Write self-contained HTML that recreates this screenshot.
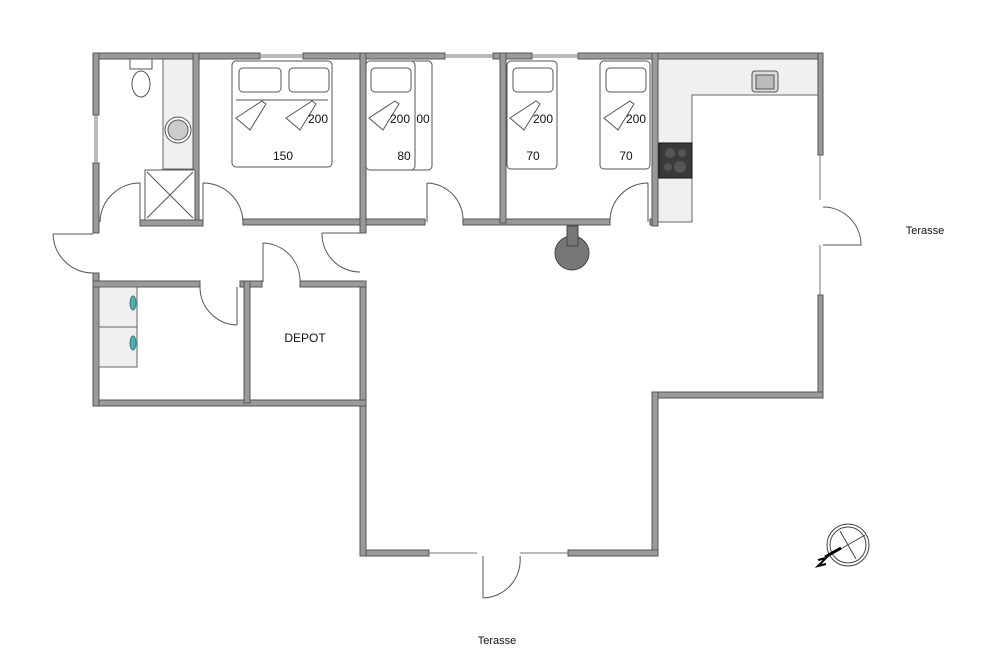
<!DOCTYPE html>
<html><head><style>body{margin:0;background:#fff}svg{display:block}</style></head><body>
<svg width="1000" height="667" viewBox="0 0 1000 667" xmlns="http://www.w3.org/2000/svg" font-family="Liberation Sans, sans-serif">
<g fill="#f0f0f0" stroke="#666" stroke-width="1">
<path d="M658 59H818V95H692V222H658Z"/>
<rect x="163" y="59" width="30" height="110"/>
</g>
<g fill="#9a9a9a" stroke="#555" stroke-width="1">
<rect x="93" y="53" width="167" height="6"/>
<rect x="303" y="53" width="142" height="6"/>
<rect x="493" y="53" width="39" height="6"/>
<rect x="578" y="53" width="245" height="6"/>
<rect x="818" y="53" width="5" height="102"/>
<rect x="818" y="295" width="5" height="103"/>
<rect x="652" y="392" width="171" height="6"/>
<rect x="652" y="392" width="6" height="164"/>
<rect x="360" y="550" width="69" height="6"/>
<rect x="568" y="550" width="90" height="6"/>
<rect x="360" y="282" width="6" height="274"/>
<rect x="93" y="400" width="273" height="6"/>
<rect x="93" y="53" width="6" height="62"/>
<rect x="93" y="163" width="6" height="70"/>
<rect x="93" y="273" width="6" height="133"/>
<rect x="193" y="53" width="6" height="173"/>
<rect x="140" y="220" width="63" height="6"/>
<rect x="243" y="219" width="182" height="6"/>
<rect x="463" y="219" width="147" height="6"/>
<rect x="650" y="219" width="8" height="6"/>
<rect x="360" y="53" width="6" height="180"/>
<rect x="500" y="53" width="6" height="170"/>
<rect x="652" y="53" width="6" height="173"/>
<rect x="93" y="281" width="107" height="6"/>
<rect x="240" y="281" width="22" height="6"/>
<rect x="300" y="281" width="66" height="6"/>
<rect x="244" y="281" width="6" height="122"/>
</g>
<g stroke="#777" stroke-width="1" fill="none">
<line x1="260" y1="55" x2="303" y2="55"/><line x1="260" y1="57" x2="303" y2="57"/>
<line x1="445" y1="55" x2="493" y2="55"/><line x1="445" y1="57" x2="493" y2="57"/>
<line x1="532" y1="55" x2="578" y2="55"/><line x1="532" y1="57" x2="578" y2="57"/>
<line x1="95" y1="115" x2="95" y2="163"/><line x1="97" y1="115" x2="97" y2="163"/>
<line x1="820" y1="155" x2="820" y2="200"/>
<line x1="820" y1="245" x2="820" y2="295"/>
<line x1="429" y1="553" x2="477" y2="553"/>
<line x1="520" y1="553" x2="568" y2="553"/>
</g>
<g stroke="#555" stroke-width="1" fill="none">
<path d="M140 183V222M140 183A40 40 0 0 0 100 222"/>
<path d="M203 183V222M203 183A40 40 0 0 1 243 222"/>
<path d="M427 183V222M427 183A37 37 0 0 1 463 222"/>
<path d="M648 183V222M648 183A38 38 0 0 0 610 222"/>
<path d="M53 234H93M53 234A40 40 0 0 0 93 273"/>
<path d="M322 233H360M322 233A38 38 0 0 0 360 272"/>
<path d="M263 243V282M263 243A38 38 0 0 1 300 282"/>
<path d="M237 287V325M237 325A38 38 0 0 1 200 287"/>
<path d="M823 207A38 38 0 0 1 861 245H823"/>
<path d="M483 556V598M483 598A38 38 0 0 0 520 556"/>
</g>
<g stroke="#555" fill="#fff" stroke-width="1">
<rect x="130" y="59" width="22" height="10"/>
<ellipse cx="141" cy="84" rx="9" ry="13"/>
<circle cx="178" cy="130" r="13"/>
<circle cx="178" cy="130" r="10" fill="#ccc"/>
<rect x="145" y="170" width="50" height="50"/>
<path d="M147 172L193 218M193 172L147 218"/>
</g>
<g stroke="#555" fill="#fff" stroke-width="1">
<rect x="232" y="61" width="100" height="106" rx="4"/>
<rect x="239" y="68" width="42" height="24" rx="4"/><rect x="289" y="68" width="40" height="24" rx="4"/>
<line x1="236" y1="100" x2="328" y2="100"/>
<rect x="383" y="61" width="49" height="109" rx="4"/>
<rect x="366" y="61" width="49" height="109" rx="4"/>
<rect x="371" y="68" width="40" height="24" rx="4"/>
<rect x="507" y="61" width="50" height="108" rx="4"/>
<rect x="513" y="68" width="40" height="24" rx="4"/>
<rect x="600" y="61" width="50" height="108" rx="4"/>
<rect x="606" y="68" width="40" height="24" rx="4"/>
<path d="M236 118L262 101L266 104L250 130Z"/><path d="M286 118L312 101L316 104L300 130Z"/>
<path d="M369 118L395 101L399 104L383 130Z"/><path d="M510 118L536 101L540 104L524 130Z"/><path d="M604 118L630 101L634 104L618 130Z"/>
</g>
<g font-size="12" fill="#111" text-anchor="middle">
<text x="318" y="123">200</text><text x="283" y="160">150</text>
<text x="400" y="123">200</text><text x="423" y="123">00</text><text x="404" y="160">80</text>
<text x="543" y="123">200</text><text x="533" y="160">70</text>
<text x="636" y="123">200</text><text x="626" y="160">70</text>
<text x="305" y="342">DEPOT</text>
<text x="925" y="234" font-size="11">Terasse</text>
<text x="497" y="644" font-size="11">Terasse</text>
</g>
<rect x="752" y="71" width="26" height="21" rx="3" fill="#ddd" stroke="#555"/>
<rect x="756" y="75" width="18" height="14" fill="#bbb" stroke="#555"/>
<rect x="659" y="143" width="33" height="35" fill="#3a3a3a" stroke="#111"/>
<circle cx="670" cy="153" r="5" fill="#555"/><circle cx="682" cy="153" r="4" fill="#555"/><circle cx="668" cy="167" r="4" fill="#555"/><circle cx="680" cy="167" r="6" fill="#555"/>
<circle cx="572" cy="253" r="17" fill="#777" stroke="#444"/>
<rect x="567" y="226" width="11" height="20" fill="#777" stroke="#444"/>
<g stroke="#666" fill="#f0f0f0">
<rect x="99" y="287" width="38" height="40"/><rect x="99" y="327" width="38" height="40"/>
<ellipse cx="133" cy="303" rx="3" ry="7" fill="#3bb"/><ellipse cx="133" cy="343" rx="3" ry="7" fill="#3bb"/>
</g>
<g stroke="#444" fill="none">
<circle cx="848" cy="545" r="21"/><circle cx="848" cy="545" r="18"/>
<line x1="840" y1="531" x2="856" y2="559"/><line x1="832" y1="554" x2="865" y2="535"/>
<line x1="825" y1="557" x2="841" y2="548" stroke="#000" stroke-width="3"/>
<path d="M818 560L826 558L818 566L826 564" stroke="#000" stroke-width="2"/>
</g>
</svg>
</body></html>
